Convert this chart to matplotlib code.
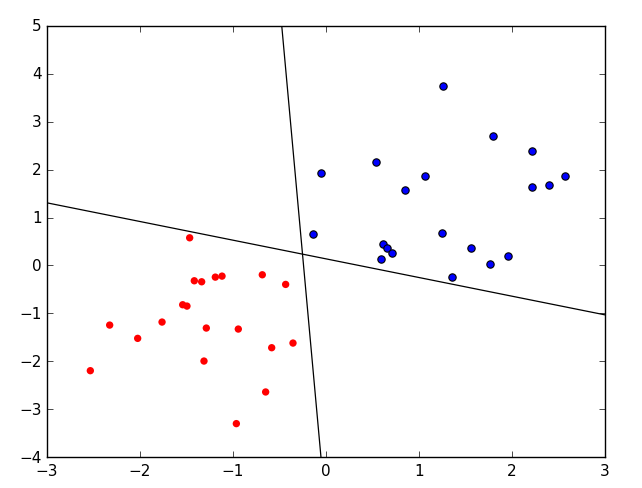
import numpy as np
import matplotlib
matplotlib.use('Agg')
import matplotlib.pyplot as plt

# class -1 (red)
red_x = [-1.466, -1.416, -1.337, -1.190, -1.118, -0.685, -0.434, -1.541, -1.495, -2.326,
         -1.763, -1.287, -0.943, -2.025, -0.584, -0.355, -2.534, -1.312, -0.649, -0.964]
red_y = [0.577, -0.319, -0.340, -0.243, -0.222, -0.194, -0.395, -0.819, -0.847, -1.243,
         -1.180, -1.305, -1.326, -1.520, -1.715, -1.618, -2.194, -1.993, -2.638, -3.298]

# class +1 (blue)
blue_x = [1.258, 1.799, 2.211, 0.541, -0.054, 1.061, 2.566, 0.849, 2.211, 2.398,
          -0.143, 1.244, 0.613, 0.656, 0.713, 0.591, 1.563, 1.957, 1.760, 1.358]
blue_y = [3.744, 2.702, 2.396, 2.154, 1.938, 1.875, 1.869, 1.584, 1.646, 1.674,
          0.660, 0.681, 0.452, 0.362, 0.258, 0.139, 0.362, 0.202, 0.021, -0.250]

# separating lines, each given by two points it passes through
line_a = [(-0.476, 5.0), (-0.054, -4.0)]
line_b = [(-3.0, 1.306), (3.0, -1.03)]

plt.style.use('classic')
fig = plt.figure(figsize=(6.42, 4.89), dpi=100)
ax = fig.add_axes([0.0732, 0.0628, 0.8692, 0.8826])

ax.scatter(red_x, red_y, s=28, c='red', edgecolors='none')
ax.scatter(blue_x, blue_y, s=28, c='blue', edgecolors='black', linewidths=0.8)

for p1, p2 in [line_a, line_b]:
    ax.axline(p1, p2, color='black', lw=0.9)

ax.set_xlim(-3, 3)
ax.set_ylim(-4, 5)
ax.set_xticks(np.arange(-3, 4, 1))
ax.set_yticks(np.arange(-4, 6, 1))
ax.tick_params(labelsize=11, length=4, direction='in', top=True, right=True)

fig.savefig('out.png', dpi=100, facecolor='white')
